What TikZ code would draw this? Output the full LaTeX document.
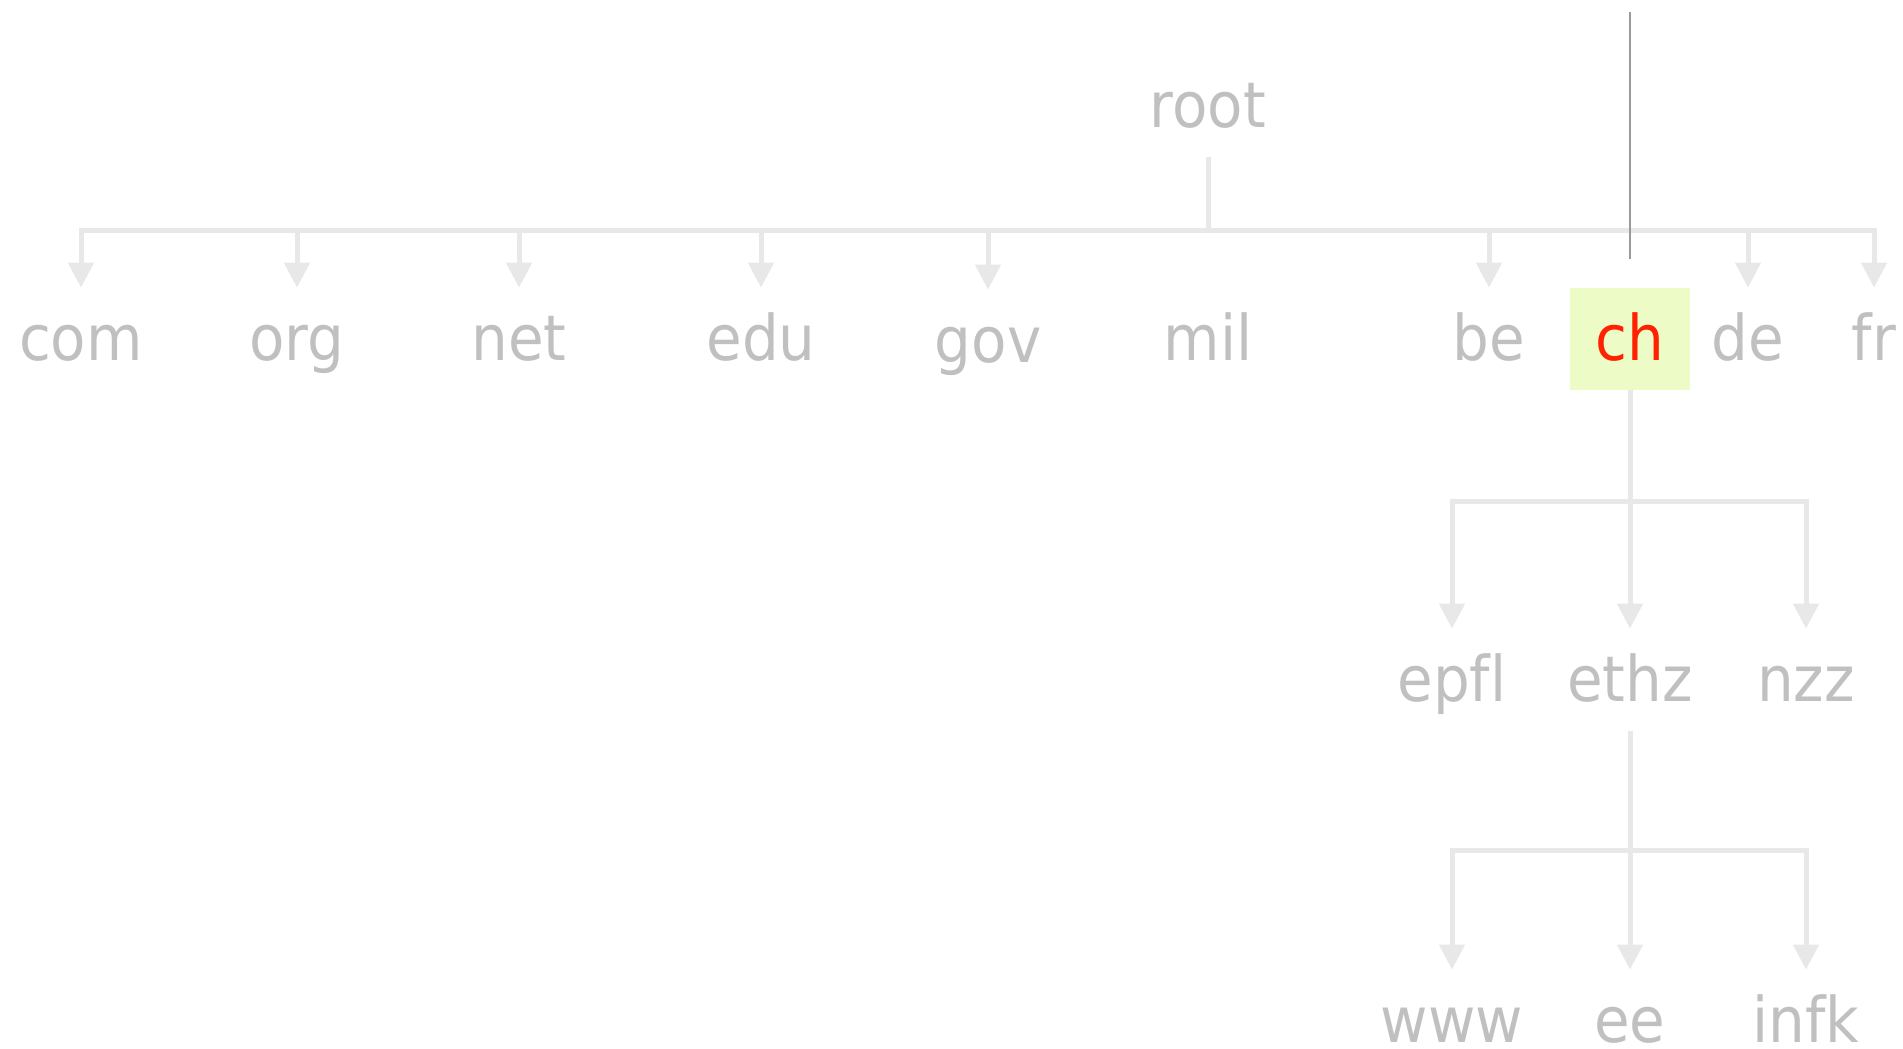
\documentclass[tikz,border=0pt]{standalone}
\usepackage{fontspec}
\usetikzlibrary{arrows.meta}
\newfontfamily\labfont[FakeStretch=0.92,Ligatures=NoCommon]{DejaVu Sans}
\definecolor{labgray}{HTML}{C0C0C0}
\definecolor{linegray}{HTML}{E8E8E8}
\definecolor{darkline}{HTML}{9A9A9A}
\definecolor{boxfill}{HTML}{EDFBC6}
\definecolor{chred}{HTML}{FF2200}
\begin{document}
\begin{tikzpicture}[x=0.5pt,y=-0.5pt,
  lab/.style={anchor=base,inner sep=0pt,text height=36pt,text depth=15pt,
    text=labgray,font=\labfont\fontsize{31.5pt}{36pt}\selectfont},
  leaf/.style={lab,text depth=1pt},
  hilite/.style={lab,fill=boxfill,text=chred,minimum width=60pt},
  conn/.style={draw=linegray,line width=2.5pt},
  arr/.style={conn,-{Triangle[length=12.5pt,width=12.5pt]}},
  pointer/.style={draw=darkline,line width=1pt}]
\useasboundingbox (0,0) rectangle (1903,1049);
% nodes
\node[lab] (root) at (1208,127) {root};
\node[lab] (com) at (81,360) {com};
\node[lab] (org) at (297,360) {org};
\node[lab] (net) at (519,360) {net};
\node[lab] (edu) at (761,360) {edu};
\node[lab] (gov) at (988,362) {gov};
\node[lab] (mil) at (1208,360) {mil};
\node[lab] (be) at (1489,360) {be};
\node[hilite] (ch) at (1630,360) {ch};
\node[lab] (de) at (1748,360) {de};
\node[lab] (fr) at (1874,360) {fr};
\node[lab] (epfl) at (1452,701) {ep{}f{}l};
\node[lab] (ethz) at (1630,701) {ethz};
\node[lab] (nzz) at (1806,701) {nzz};
\node[leaf] (www) at (1452,1042) {www};
\node[leaf] (ee) at (1630,1042) {ee};
\node[leaf] (infk) at (1806,1042) {infk};
% bars
\coordinate (rbar) at (1208,230);
\coordinate (chbar) at (1630,501);
\coordinate (ethbar) at (1630,850);
\coordinate (ptop) at (1630,12);
% root children
\draw[conn] (root.south) -- (rbar);
\foreach \c in {com,org,net,edu,gov,be,de,fr}{
  \draw[arr] (rbar) -| (\c.north);
}
% ch children
\draw[conn] (ch.south) -- (chbar);
\foreach \c in {epfl,ethz,nzz}{
  \draw[arr] (chbar) -| (\c.north);
}
% ethz children
\draw[conn] (ethz.south) -- (ethbar);
\foreach \c in {www,ee,infk}{
  \draw[arr] (ethbar) -| (\c.north);
}
% pointer line
\draw[pointer,shorten >=14.5pt] (ptop) -- (ch.north);
\end{tikzpicture}
\end{document}
